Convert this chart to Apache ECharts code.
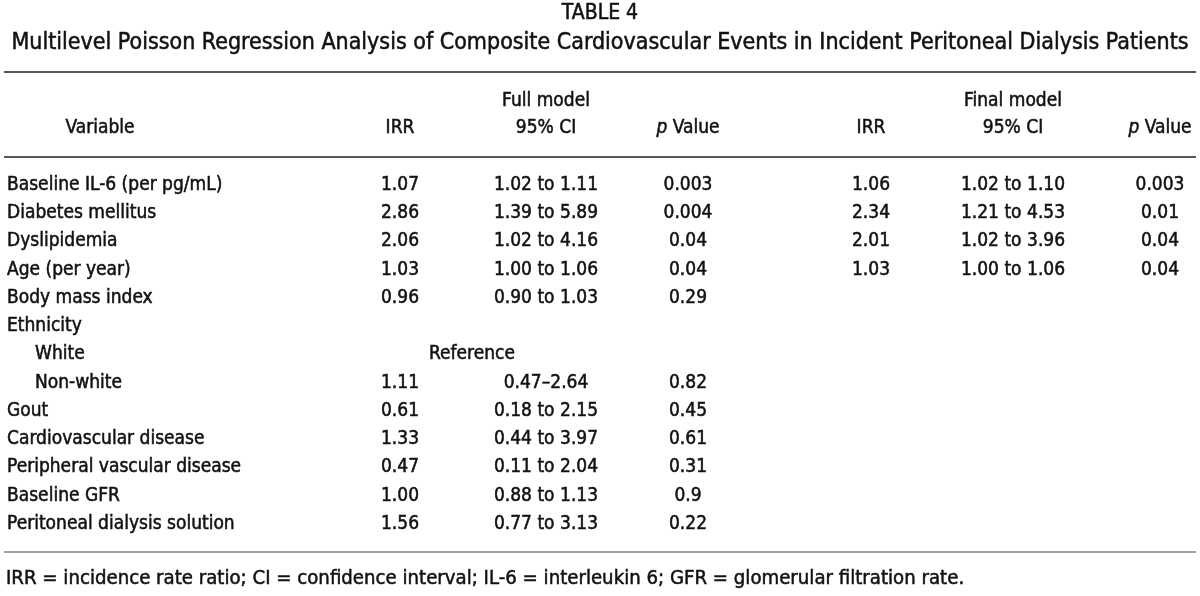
<!DOCTYPE html>
<html>
<head>
<meta charset="utf-8">
<script src="https://cdn.jsdelivr.net/npm/echarts@6/dist/echarts.min.js"></script>
<style>html,body{margin:0;padding:0;background:#fff}#c{width:1200px;height:596px}</style>
</head>
<body>
<div id="c"></div>
<script>
// ---- data ----
const variables = ['Baseline IL-6 (per pg/mL)','Diabetes mellitus','Dyslipidemia','Age (per year)','Body mass index','Ethnicity','White','Non-white','Gout','Cardiovascular disease','Peripheral vascular disease','Baseline GFR','Peritoneal dialysis solution'];
const indented = [false,false,false,false,false,false,true,true,false,false,false,false,false];
const fullIRR = ['1.07','2.86','2.06','1.03','0.96','','','1.11','0.61','1.33','0.47','1.00','1.56'];
const fullCI = ['1.02 to 1.11','1.39 to 5.89','1.02 to 4.16','1.00 to 1.06','0.90 to 1.03','','','0.47\u20132.64','0.18 to 2.15','0.44 to 3.97','0.11 to 2.04','0.88 to 1.13','0.77 to 3.13'];
const fullP = ['0.003','0.004','0.04','0.04','0.29','','','0.82','0.45','0.61','0.31','0.9','0.22'];
const referenceText = ['','','','','','','Reference','','','','','',''];
const finalIRR = ['1.06','2.34','2.01','1.03','','','','','','','','',''];
const finalCI = ['1.02 to 1.10','1.21 to 4.53','1.02 to 3.96','1.00 to 1.06','','','','','','','','',''];
const finalP = ['0.003','0.01','0.04','0.04','','','','','','','','',''];
const titleText = 'TABLE 4';
const subtitleText = 'Multilevel Poisson Regression Analysis of Composite Cardiovascular Events in Incident Peritoneal Dialysis Patients';
const footnoteText = 'IRR = incidence rate ratio; CI = confidence interval; IL-6 = interleukin 6; GFR = glomerular filtration rate.';

// ---- layout ----
const FONT = '"DejaVu Sans Condensed", "Liberation Sans Narrow", sans-serif';
const FS = 19;
const COLOR = '#111';
const STROKE = 0.5;
const colLayout = [
  {arr: fullIRR, x: 400, align: 'center'},
  {arr: fullCI, x: 546, align: 'center'},
  {arr: fullP, x: 688, align: 'center'},
  {arr: referenceText, x: 472, align: 'center'},
  {arr: finalIRR, x: 871, align: 'center'},
  {arr: finalCI, x: 1013, align: 'center'},
  {arr: finalP, x: 1160, align: 'center'}
];
const cells = [];
variables.forEach((v, i) => {
  cells.push({value: [indented[i] ? 35 : 7, i], text: v, align: 'left'});
});
colLayout.forEach(c => {
  c.arr.forEach((t, i) => { if (t) cells.push({value: [c.x, i], text: t, align: c.align}); });
});

function txt(x, y, text, opts) {
  opts = opts || {};
  return {type: 'text', x: x, y: y, silent: true,
    style: {text: text, fill: COLOR, font: (opts.size || FS) + 'px ' + FONT,
      stroke: COLOR, lineWidth: STROKE,
      textAlign: opts.align || 'center', textVerticalAlign: 'middle'}};
}
function pValueHeader(x, y) {
  return {type: 'text', x: x, y: y, silent: true,
    style: {text: '{i|p} {n|Value}', textAlign: 'center', textVerticalAlign: 'middle', fill: COLOR,
      font: FS + 'px ' + FONT, stroke: COLOR, lineWidth: STROKE,
      rich: {
        i: {fontStyle: 'italic', fontFamily: FONT, fontSize: FS, fill: COLOR, stroke: COLOR, lineWidth: STROKE},
        n: {fontFamily: FONT, fontSize: FS, fill: COLOR, stroke: COLOR, lineWidth: STROKE}
      }}};
}

const headerY1 = 101, headerY2 = 128;
const graphics = [
  txt(600, 14, titleText, {size: 21}),
  txt(600, 43, subtitleText, {size: 23}),
  {type: 'line', shape: {x1: 4, y1: 72, x2: 1196, y2: 72}, style: {stroke: '#222', lineWidth: 1.5}},
  {type: 'line', shape: {x1: 4, y1: 157, x2: 1196, y2: 157}, style: {stroke: '#222', lineWidth: 1.5}},
  {type: 'line', shape: {x1: 4, y1: 552, x2: 1196, y2: 552}, style: {stroke: '#444', lineWidth: 1}},
  txt(100, headerY2, 'Variable'),
  txt(400, headerY2, 'IRR'),
  txt(546, headerY1, 'Full model'),
  txt(546, headerY2, '95% CI'),
  pValueHeader(688, headerY2),
  txt(871, headerY2, 'IRR'),
  txt(1013, headerY1, 'Final model'),
  txt(1013, headerY2, '95% CI'),
  pValueHeader(1160, headerY2),
  txt(6, 579, footnoteText, {align: 'left', size: 20.2})
];

const rowH = 28.25, firstRowY = 185;
const chart = echarts.init(document.getElementById('c'));
chart.setOption({
  animation: false,
  backgroundColor: '#fff',
  grid: {left: 0, right: 0, top: firstRowY - rowH / 2, height: rowH * variables.length},
  xAxis: {type: 'value', min: 0, max: 1200, show: false},
  yAxis: {type: 'category', data: variables, inverse: true, show: false},
  series: [{
    type: 'custom',
    data: cells,
    renderItem: function (params, api) {
      const c = cells[params.dataIndex];
      const p = api.coord([api.value(0), api.value(1)]);
      return {type: 'text', x: p[0], y: p[1],
        style: {text: c.text, fill: COLOR, font: FS + 'px ' + FONT, textAlign: c.align, textVerticalAlign: 'middle',
          stroke: COLOR, lineWidth: STROKE}};
    }
  }],
  graphic: graphics
});
</script>
</body>
</html>
